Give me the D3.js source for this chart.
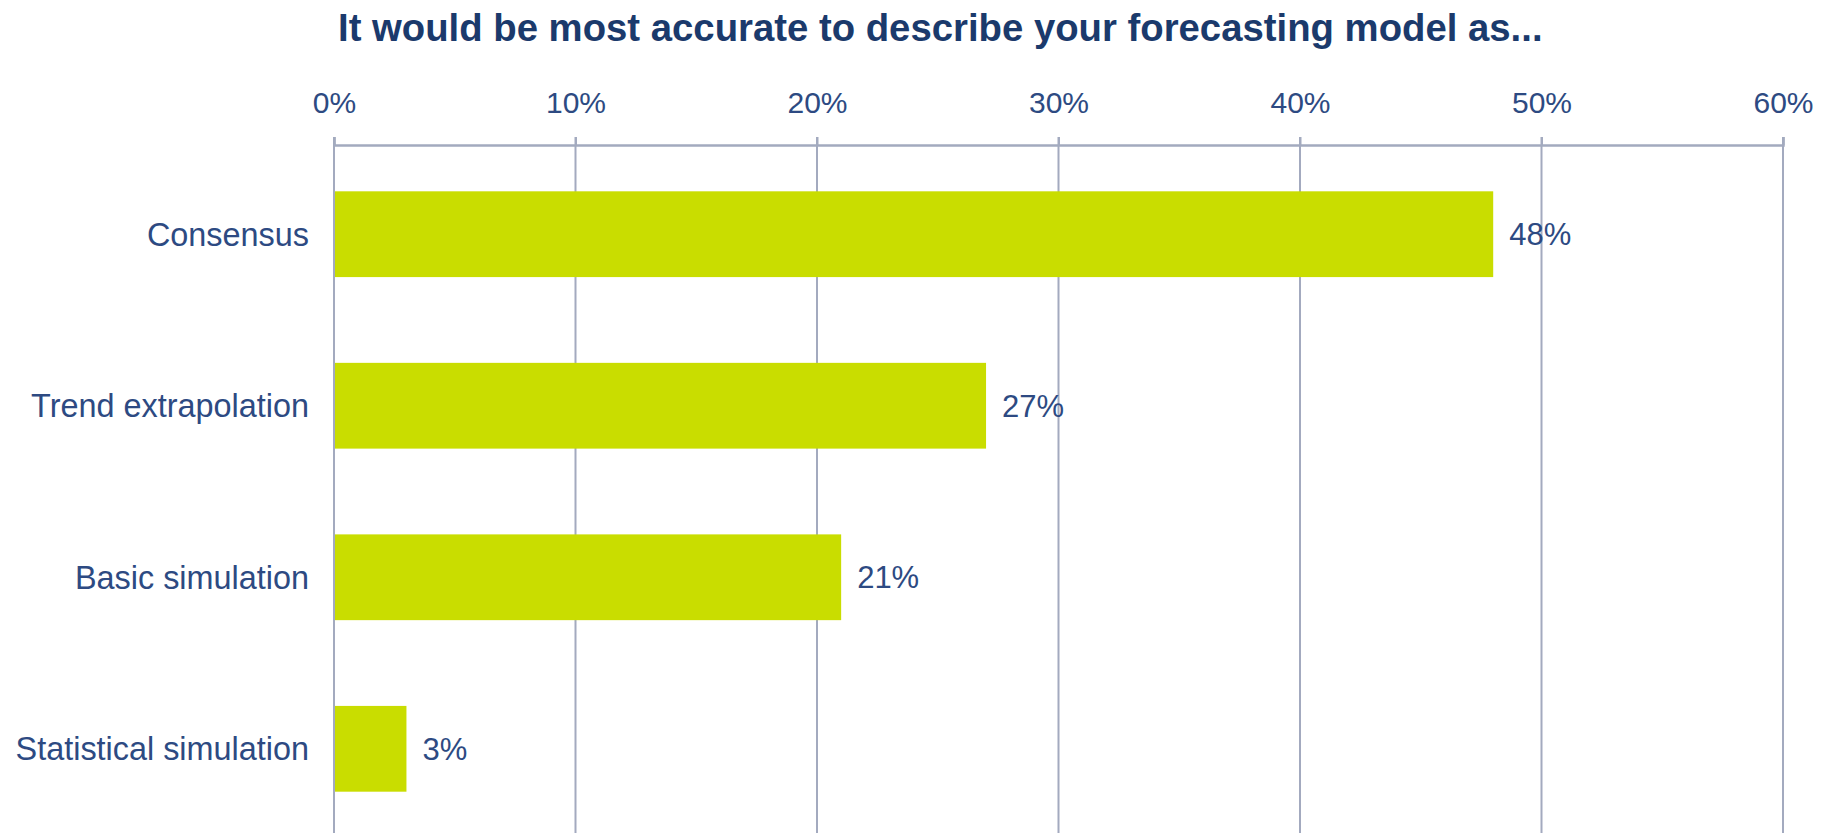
<!DOCTYPE html>
<html>
<head>
<meta charset="utf-8">
<script src="https://cdn.jsdelivr.net/npm/d3@7"></script>
<style>
  html, body { margin: 0; padding: 0; background: #ffffff; }
  svg { display: block; }
</style>
</head>
<body>
<svg id="chart" width="1835" height="833"></svg>
<script>
// Survey responses: share of respondents per forecasting model type
const title = "It would be most accurate to describe your forecasting model as...";
const categories = ["Consensus", "Trend extrapolation", "Basic simulation", "Statistical simulation"];
const shares = [0.48, 0.27, 0.21, 0.03];
const tickValues = [0, 0.1, 0.2, 0.3, 0.4, 0.5, 0.6];

const W = 1835, H = 833;
const margin = { top: 145, right: 52, bottom: 0, left: 334 };

const svg = d3.select("#chart");

const x = d3.scaleLinear()
  .domain([0, 0.6])
  .range([margin.left, W - margin.right]);

const y = d3.scaleBand()
  .domain(categories)
  .range([margin.top, H + 5])
  .paddingInner(0.5)
  .paddingOuter(0.27);

const gridColor = "#a3aabf";
const textColor = "#2d4a82";
const fontFamily = "'Liberation Sans', Arial, sans-serif";

// Title
svg.append("text")
  .attr("x", 338)
  .attr("y", 41)
  .attr("font-family", fontFamily)
  .attr("font-weight", "bold")
  .attr("font-size", 38.3)
  .attr("fill", "#1b3a6c")
  .text(title);

// Vertical gridlines
svg.append("g")
  .selectAll("line")
  .data(tickValues)
  .join("line")
  .attr("x1", d => x(d))
  .attr("x2", d => x(d))
  .attr("y1", margin.top - 8)
  .attr("y2", H)
  .attr("stroke", gridColor)
  .attr("stroke-width", 2);

// Top axis
const axis = d3.axisTop(x)
  .tickValues(tickValues)
  .tickFormat(d3.format(".0%"))
  .tickSize(8)
  .tickPadding(24);

const gAxis = svg.append("g")
  .attr("transform", `translate(0,${margin.top})`)
  .call(axis);

gAxis.select(".domain").attr("stroke", gridColor).attr("stroke-width", 2.5);
gAxis.selectAll(".tick line").attr("stroke", gridColor).attr("stroke-width", 2);
gAxis.selectAll(".tick text")
  .attr("font-family", fontFamily)
  .attr("font-size", 30)
  .attr("fill", textColor);

// Bars
const rows = categories.map((c, i) => ({ category: c, value: shares[i] }));

svg.append("g")
  .selectAll("rect")
  .data(rows)
  .join("rect")
  .attr("x", x(0) + 1)
  .attr("y", d => y(d.category))
  .attr("width", d => x(d.value) - x(0) - 1)
  .attr("height", y.bandwidth())
  .attr("fill", "#c9dd00");

// Category labels
svg.append("g")
  .selectAll("text")
  .data(rows)
  .join("text")
  .attr("x", margin.left - 25)
  .attr("y", d => y(d.category) + y.bandwidth() / 2)
  .attr("dy", "0.35em")
  .attr("text-anchor", "end")
  .attr("font-family", fontFamily)
  .attr("font-size", 32.4)
  .attr("fill", textColor)
  .text(d => d.category);

// Value labels
svg.append("g")
  .selectAll("text")
  .data(rows)
  .join("text")
  .attr("x", d => x(d.value) + 16)
  .attr("y", d => y(d.category) + y.bandwidth() / 2)
  .attr("dy", "0.35em")
  .attr("font-family", fontFamily)
  .attr("font-size", 31)
  .attr("fill", textColor)
  .text(d => d3.format(".0%")(d.value));
</script>
</body>
</html>
